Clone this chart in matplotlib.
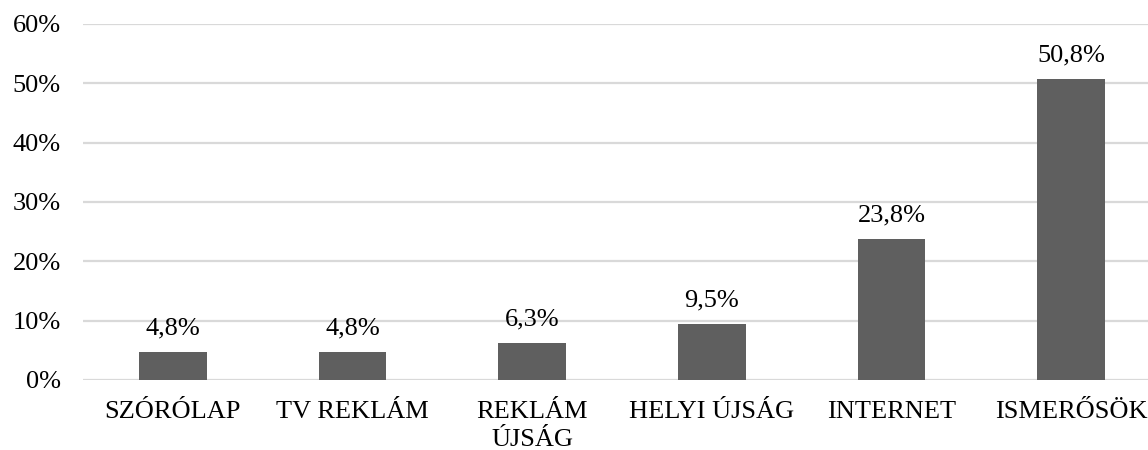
import matplotlib
matplotlib.use("Agg")
import matplotlib.pyplot as plt
import numpy as np

categories = ["SZÓRÓLAP", "TV REKLÁM", "REKLÁM\nÚJSÁG", "HELYI ÚJSÁG", "INTERNET", "ISMERŐSÖK"]
values = [4.8, 4.8, 6.3, 9.5, 23.8, 50.8]
labels = ["4,8%", "4,8%", "6,3%", "9,5%", "23,8%", "50,8%"]
yticks = [0, 10, 20, 30, 40, 50, 60]

plt.rcParams['font.family'] = ['Liberation Serif', 'DejaVu Serif']

fig = plt.figure(figsize=(11.48, 4.5), dpi=100)
# plot area runs a little past the right edge, as in the original
ax = fig.add_axes([83/1148, 1-380/450, (1161-83)/1148, (380-24)/450])

x = np.arange(len(categories))
bars = ax.bar(x, values, width=0.377, color="#5f5f5f", zorder=3)

for b, lab in zip(bars, labels):
    ax.annotate(lab, (b.get_x() + b.get_width()/2, b.get_height()),
                xytext=(0, 9), textcoords="offset points",
                ha="center", va="bottom", fontsize=19, color="#000000")

ax.set_xlim(-0.5, len(categories) - 0.5)
ax.set_ylim(0, 60)
ax.set_yticks(yticks)
ax.set_yticklabels([f"{t}%" for t in yticks], fontsize=19)
ax.set_xticks(x)
ax.set_xticklabels(categories, fontsize=19, linespacing=1.38)
ax.tick_params(axis="y", length=0, pad=16)
ax.tick_params(axis="x", length=0, pad=15)

ax.grid(axis="y", color="#d9d9d9", linewidth=1.6, zorder=0)
for s in ax.spines.values():
    s.set_visible(False)

fig.savefig("out.png", dpi=100)
